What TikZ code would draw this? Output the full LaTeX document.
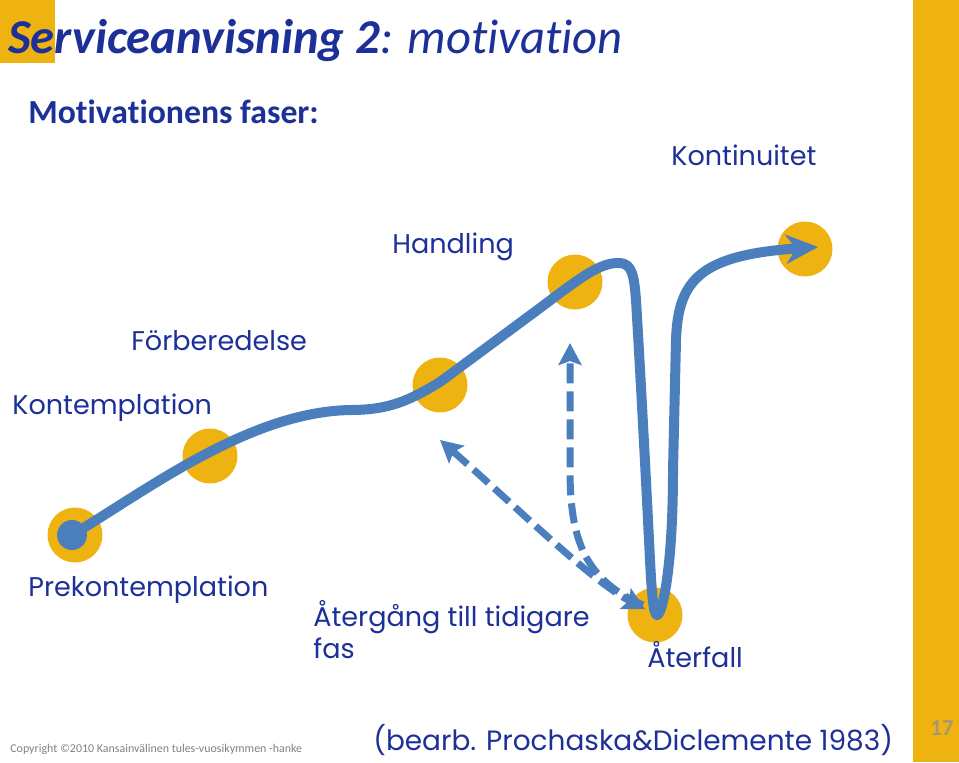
\documentclass[tikz,border=0pt]{standalone}
\usepackage{fontspec}
\setmainfont{Carlito}[Ligatures=NoCommon]
\newfontfamily\gothic{Poppins}
\usetikzlibrary{positioning,calc,arrows.meta}
\definecolor{navy}{RGB}{28,48,152}
\definecolor{gold}{RGB}{239,179,17}
\definecolor{lineblue}{RGB}{74,126,189}
\definecolor{sidgra}{RGB}{168,150,112}
\tikzset{
  fase/.style={circle,fill=gold,minimum size=1.1cm,inner sep=0pt},
  punkt/.style={circle,fill=lineblue,minimum size=0.6cm,inner sep=0pt},
  etikett/.style={anchor=base west,inner sep=0pt,text=navy,
    font=\gothic\fontsize{15.4}{18.5}\selectfont},
  bana/.style={line width=0.2cm,draw=lineblue,line cap=round,line join=round},
  retur/.style={line width=0.14cm,draw=lineblue,dash pattern=on 0.4cm off 0.16cm},
}

\begin{document}
\begin{tikzpicture}[x=0.02cm,y=-0.02cm]
    \useasboundingbox (0,0) rectangle (959,762);
    % ramar
    \fill[gold] (0,0) rectangle (55,63);
    \fill[gold] (913,0) rectangle (959,762);
    \node[anchor=base west,inner sep=0pt,text=navy,font=\fontsize{27.7}{33}\selectfont\bfseries\itshape]
        (titel) at (8,53) {Serviceanvisning 2\mdseries: motivation};
    \node[anchor=base west,inner sep=0pt,text=navy,font=\fontsize{19.2}{23}\selectfont\bfseries]
        (under) at (28,123) {Motivationens faser:};
    % faserna
    \node[fase] (pre) at (75,535) {};
    \node[fase] (kont) at (210,456) {};
    \node[fase] (forb) at (440,385) {};
    \node[fase] (hand) at (575,282) {};
    \node[fase] (kontin) at (805,249) {};
    \node[fase] (ater) at (655,615) {};
    \node[punkt] (start) at (72,535) {};
    \node[etikett] (tpre) at (28,596) {Prekontemplation};
    \node[etikett] (tkont) at (12,414) {Kontemplation};
    \node[etikett] (tforb) at (131,350) {Förberedelse};
    \node[etikett] (thand) at (392,253) {Handling};
    \node[etikett] (tkontin) at (671,165) {Kontinuitet};
    \node[etikett] (tater) at (647,667) {Återfall};
    \node[etikett,align=left,anchor=north west] (tretur) at (313,600) {Återgång till tidigare\\fas};
    % banan
    \coordinate (topp) at (620,263);
    \coordinate (botten) at (657,615);
    \coordinate (mal) at (818,247);
    \draw[bana,-{Stealth[length=0.64cm,width=0.58cm,inset=0.2cm]}] (start.center)
        .. controls (150,488) and (250,412) .. (350,410)
        .. controls (390,410) and (410,400) .. (440,382) -- (540,308)
        .. controls (580,278) and (600,262) .. (topp)
        .. controls (632,264) and (634,275) .. (636,300)
        .. controls (642,400) and (648,520) .. (650,560)
        .. controls (652,600) and (654,615) .. (botten)
        .. controls (662,615) and (673,570) .. (673,470)
        -- (676,340) .. controls (678,280) and (700,255) .. (mal);
    % tillbaka
    \coordinate (mot1) at (440,440);
    \coordinate (mot2) at (570,343);
    \draw[retur,{Stealth[length=0.44cm,width=0.46cm,inset=0.08cm]}-{Stealth[length=0.44cm,width=0.46cm,inset=0.08cm]}]
        (mot1) .. controls (520,510) and (590,580) .. ($(ater.center)+(-10,-6)$);
    \draw[retur,-{Stealth[length=0.44cm,width=0.46cm,inset=0.08cm]}]
        ($(ater.center)+(-12,-10)$) .. controls (585,580) and (570,540) .. (570,470) -- (mot2);
    % fot
    \node[anchor=base west,inner sep=0pt,text=gray,font=\fontsize{6.8}{8}\selectfont]
        (copy) at (10,752) {Copyright ©2010 Kansainvälinen tules-vuosikymmen -hanke};
    \node[etikett,font=\gothic\fontsize{15.9}{19}\selectfont] (kalla) at (373,750) {(bearb. Prochaska\&Diclemente 1983)};
    \node[anchor=base,inner sep=0pt,text=sidgra,font=\fontsize{13}{15}\selectfont\bfseries]
        (sida) at (942,735) {17};
\end{tikzpicture}
\end{document}
